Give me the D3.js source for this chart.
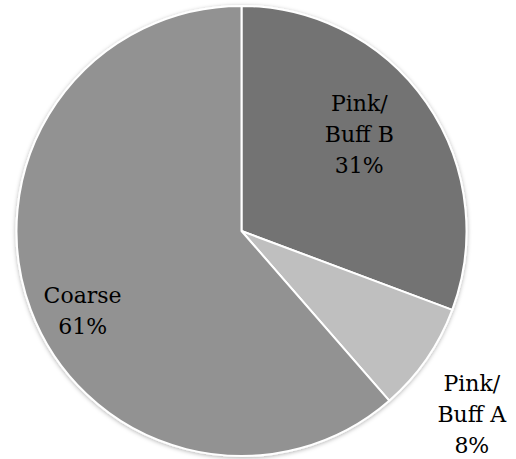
<!DOCTYPE html>
<html>
<head>
<meta charset="utf-8">
<script src="https://cdn.jsdelivr.net/npm/d3@7"></script>
<style>
html,body{margin:0;padding:0;background:#fff;}
svg{display:block;}
</style>
</head>
<body>
<svg id="chart" width="516" height="459"></svg>
<script>
// Data
const categories = ["Pink/Buff B", "Pink/Buff A", "Coarse"];
const labelLines = [["Pink/", "Buff B"], ["Pink/", "Buff A"], ["Coarse"]];
const values = [30.7, 7.9, 61.4];
const colors = ["#737373", "#bfbfbf", "#929292"];

// Layout
const W = 516, H = 459;
const cx = 241.5, cy = 231, r = 225;
// label placement: radius factor & angle tweak (degrees) per slice
const labelRadius = [0.68, 1.307, 0.79];
const labelAngleShift = [-4.9, 3.7, -6.1];
const fontSize = 22, lineH = 31;

const svg = d3.select("#chart");
const defs = svg.append("defs");
const f = defs.append("filter").attr("id", "sh")
  .attr("x", "-10%").attr("y", "-10%").attr("width", "120%").attr("height", "120%");
f.append("feDropShadow").attr("dx", 0).attr("dy", 1).attr("stdDeviation", 2)
  .attr("flood-color", "#000").attr("flood-opacity", 0.3);

const data = categories.map((c, i) => ({ cat: c, value: values[i], i }));
const pie = d3.pie().sort(null).value(d => d.value);
const arcs = pie(data);
const arc = d3.arc().innerRadius(0).outerRadius(r);

const g = svg.append("g").attr("transform", `translate(${cx},${cy})`);
g.append("g").attr("filter", "url(#sh)")
  .selectAll("path").data(arcs).enter().append("path")
  .attr("d", arc)
  .attr("fill", d => colors[d.data.i])
  .attr("stroke", "#fff")
  .attr("stroke-width", 2)
  .attr("stroke-linejoin", "round");

const total = d3.sum(values);
const labels = g.append("g").selectAll("text").data(arcs).enter().append("text")
  .attr("font-family", "'DejaVu Serif', serif")
  .attr("font-size", fontSize)
  .attr("fill", "#000")
  .attr("text-anchor", "middle")
  .each(function (d) {
    const i = d.data.i;
    const a = (d.startAngle + d.endAngle) / 2 + labelAngleShift[i] * Math.PI / 180;
    const rr = labelRadius[i] * r;
    const x = Math.sin(a) * rr, y = -Math.cos(a) * rr;
    const lines = labelLines[i].concat([Math.round(d.data.value / total * 100) + "%"]);
    const n = lines.length;
    const t = d3.select(this);
    lines.forEach((ln, k) => {
      t.append("tspan")
        .attr("x", x)
        .attr("y", y + (k - (n - 1) / 2) * lineH + fontSize * 0.37)
        .text(ln);
    });
  });
</script>
</body>
</html>
